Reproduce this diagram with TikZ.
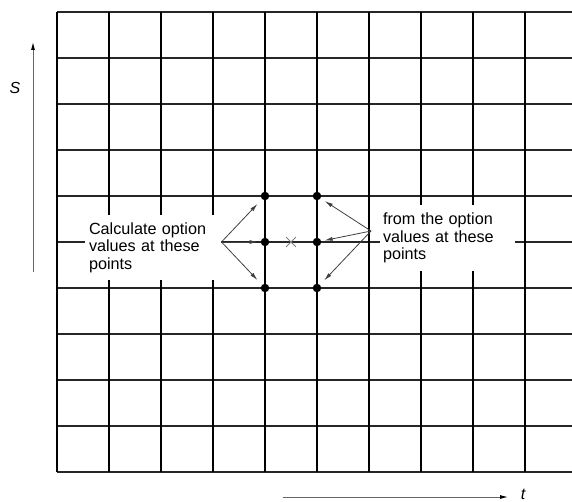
\documentclass[tikz,border=0pt]{standalone}
\usepackage{fontspec}
\setmainfont{Liberation Sans}
\usetikzlibrary{arrows.meta,shapes.misc}
\begin{document}
\begin{tikzpicture}[x=1pt,y=-1pt,
  vline/.style={line width=1.3pt,black},
  hline/.style={line width=1.1pt,black!85},
  labelbox/.style={fill=white,inner ysep=0pt,align=left,font=\fontsize{16.2}{17.6}\selectfont},
  dot/.style={circle,fill=black,inner sep=0pt,minimum size=8.5pt},
  pointer/.style={line width=0.8pt,black!75,-{Latex[length=8pt,width=4pt]}},
  axis/.style={line width=0.9pt,black!60,-{Latex[length=8pt,width=4pt,black]}},
  axlabel/.style={inner sep=0pt,font=\fontsize{16}{17.6}\selectfont\itshape}]
\useasboundingbox (0,0) rectangle (572,502);
\foreach \j in {0,...,10} \draw[hline] (57,{12+46*\j}) -- (572,{12+46*\j});
\foreach \i in {0,...,9} \draw[vline] ({57+52*\i},12) -- ({57+52*\i},472);
\node[labelbox, inner xsep=4pt, text width=128pt, minimum height=65pt] (L) at (153,247.5) {Calculate option\\values at these\\points};
\node[labelbox, inner xsep=3pt, text width=129pt, minimum height=66pt] (R) at (447.5,238) {from the option\\values at these\\points};
\coordinate (Lo) at (221.5,242);
\coordinate (Ro) at (371,231);
\node[dot] (a1) at (265,196) {};
\node[dot] (a2) at (265,242) {};
\node[dot] (a3) at (265,288) {};
\node[dot] (b1) at (317,196) {};
\node[dot] (b2) at (317,242) {};
\node[dot] (b3) at (317,288) {};
\node[cross out,draw=black!50,line width=0.8pt,minimum size=9pt,inner sep=0pt] (X) at (291,242) {};
\draw[pointer, shorten >=6.5pt] (Lo) -- (a1);
\draw[pointer, shorten >=3pt] (Lo) -- (a2);
\draw[pointer, shorten >=6.5pt] (Lo) -- (a3);
\draw[pointer, shorten >=5pt] (Ro) -- (b1);
\draw[pointer, shorten >=3.3pt] (Ro) -- (b2);
\draw[pointer, shorten >=6pt] (Ro) -- (b3);
\coordinate (s0) at (33,272);
\coordinate (s1) at (33,42);
\draw[axis] (s0) -- (s1);
\node[axlabel] (S) at (15,88) {S};
\coordinate (t0) at (283,497);
\coordinate (t1) at (508,497);
\draw[axis] (t0) -- (t1);
\node[axlabel] (T) at (523,494.5) {t};
\end{tikzpicture}
\end{document}
